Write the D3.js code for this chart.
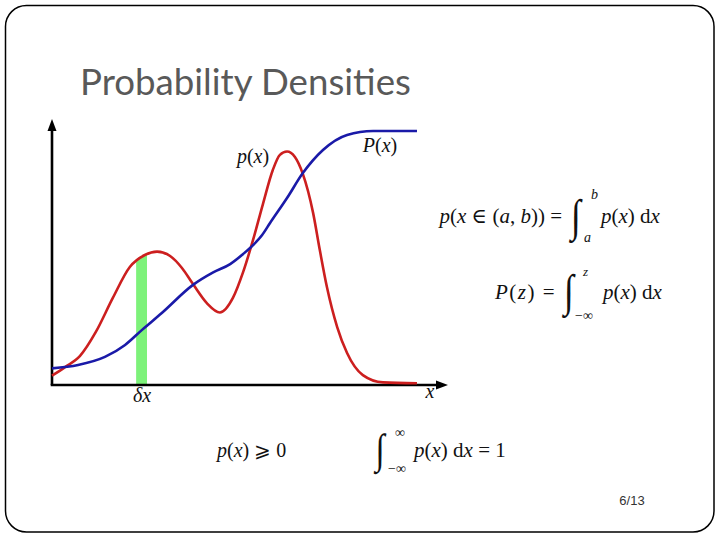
<!DOCTYPE html>
<html>
<head>
<meta charset="utf-8">
<script src="https://cdn.jsdelivr.net/npm/d3@7"></script>
<style>
  html, body { margin: 0; padding: 0; background: #fff; }
  svg { display: block; }
</style>
</head>
<body>
<svg id="chart" width="720" height="540"></svg>
<script>
// ---------- data (abstract units: x 0..100, y 0..100) ----------
const densityX = [0, 3.3, 7.1, 11.1, 15.4, 19.7, 23.5, 26.6, 29.9, 32.9, 35.7, 39.2, 42.5, 45.8, 48.4, 50.9, 53.4, 55.9, 57.7, 59.5, 61.5, 63.5, 66.1, 67.8, 69.6, 72.2, 74.7, 78.7, 83.8, 92.4];
const densityY = [3.6, 6.9, 11.2, 20.4, 33.5, 45.4, 50.0, 51.3, 49.6, 45.0, 38.8, 31.5, 27.9, 33.5, 43.5, 55.8, 69.6, 82.7, 88.5, 89.8, 87.7, 81.2, 66.2, 51.9, 37.7, 22.3, 12.3, 3.8, 1.0, 0.7];
const cumulativeX = [0, 6.6, 13.4, 18.5, 22.8, 27.8, 35.7, 40.8, 45.1, 48.4, 50.9, 53.2, 55.2, 59.5, 63.5, 68.6, 74.7, 81.3, 92.4];
const cumulativeY = [6.4, 7.7, 10.8, 15.4, 21.2, 27.7, 38.5, 43.3, 46.5, 50.4, 53.8, 57.7, 62.3, 71.9, 81.5, 90.4, 96.2, 97.7, 97.7];
const deltaBand = [21.3, 24.05];
const titleText = "Probability Densities";
const pageLabel = "6/13";

const svg = d3.select("#chart");

// ---------- slide frame ----------
svg.append("rect")
  .attr("x", 5.5).attr("y", 5.5).attr("width", 708.5).attr("height", 526.5)
  .attr("rx", 21).attr("ry", 21)
  .attr("fill", "none").attr("stroke", "#000").attr("stroke-width", 1.5);

// ---------- title ----------
const title = svg.append("text")
  .attr("x", 80).attr("y", 95)
  .attr("font-family", "Lato, 'Open Sans', sans-serif")
  .attr("font-size", 36)
  .attr("fill", "#595959")
  .text(titleText);
const tw = title.node().getComputedTextLength();
title.attr("font-size", 36 * 331 / tw);

// ---------- scales ----------
const x = d3.scaleLinear().domain([0, 100]).range([52, 447]);
const y = d3.scaleLinear().domain([0, 100]).range([385, 125]);

const density = densityX.map((d, i) => [d, densityY[i]]);
const cumulative = cumulativeX.map((d, i) => [d, cumulativeY[i]]);

// ---------- green band (area under density) ----------
svg.append("defs").append("clipPath").attr("id", "band")
  .append("rect")
  .attr("x", x(deltaBand[0])).attr("y", 0)
  .attr("width", x(deltaBand[1]) - x(deltaBand[0])).attr("height", 540);

const curve = d3.curveMonotoneX;
svg.append("path")
  .datum(density)
  .attr("clip-path", "url(#band)")
  .attr("fill", "#7df27a")
  .attr("d", d3.area().x(d => x(d[0])).y0(y(0)).y1(d => y(d[1])).curve(curve));

// ---------- axes ----------
const axisG = svg.append("g");
axisG.append("line")
  .attr("x1", x(0)).attr("y1", y(0)).attr("x2", x(0)).attr("y2", 128)
  .attr("stroke", "#000").attr("stroke-width", 2.6);
axisG.append("line")
  .attr("x1", x(0) - 1.3).attr("y1", y(0)).attr("x2", 440).attr("y2", y(0))
  .attr("stroke", "#000").attr("stroke-width", 2.6);
axisG.append("path")
  .attr("d", `M${x(0)},119 L${x(0) - 4.5},131 L${x(0) + 4.5},131 Z`)
  .attr("fill", "#000");
axisG.append("path")
  .attr("d", `M448,${y(0)} L436,${y(0) - 4.5} L436,${y(0) + 4.5} Z`)
  .attr("fill", "#000");

// ---------- curves ----------
const line = d3.line().x(d => x(d[0])).y(d => y(d[1])).curve(curve);
svg.append("path").datum(density)
  .attr("fill", "none").attr("stroke", "#cc1f1f").attr("stroke-width", 2.6)
  .attr("d", line);
svg.append("path").datum(cumulative)
  .attr("fill", "none").attr("stroke", "#1a1aa8").attr("stroke-width", 2.6)
  .attr("d", line);

// ---------- math labels ----------
const mathFont = "'Liberation Serif', 'DejaVu Serif', serif";
function mtext(xp, yp, parts, size, anchor, spacing) {
  const t = svg.append("text")
    .attr("x", xp).attr("y", yp)
    .attr("font-family", mathFont)
    .attr("font-size", size || 19)
    .attr("fill", "#111")
    .attr("letter-spacing", spacing || 0)
    .attr("text-anchor", anchor || "start");
  parts.forEach(p => {
    t.append("tspan")
      .attr("font-style", p[1] ? "italic" : "normal")
      .text(p[0]);
  });
  return t;
}
function integral(xp, yTop, yBot) {
  const t = svg.append("text")
    .attr("font-family", "'Liberation Serif', serif")
    .attr("font-size", 40)
    .attr("fill", "#111")
    .text("∫");
  const bb = t.node().getBBox();
  const s = (yBot - yTop) / bb.height;
  t.attr("transform", `translate(${xp - bb.x * s * 0.8},${yTop - bb.y * s}) scale(${0.8 * s},${s})`);
  return t;
}

mtext(253, 163, [["p", 1], ["(", 0], ["x", 1], [")", 0]], 20, "middle");
mtext(380, 152, [["P", 1], ["(", 0], ["x", 1], [")", 0]], 20, "middle");
mtext(142, 402, [["δ", 1], ["x", 1]], 20, "middle");
mtext(430, 398, [["x", 1]], 20, "middle");

// p(x in (a,b)) = int_a^b p(x) dx
mtext(562, 223, [["p", 1], ["(", 0], ["x", 1], [" ∈ (", 0], ["a", 1], [", ", 0], ["b", 1], [")) =", 0]], 21, "end");
integral(568, 190, 243);
mtext(591, 199, [["b", 1]], 14);
mtext(584, 242, [["a", 1]], 14);
mtext(601, 223, [["p", 1], ["(", 0], ["x", 1], [") d", 0], ["x", 1]], 21);

// P(z) = int_{-inf}^{z} p(x) dx
mtext(556, 299, [["P", 1], ["(", 0], ["z", 1], [")  =", 0]], 21, "end", 1.5);
integral(561, 265, 318);
mtext(583, 276, [["z", 1]], 13);
mtext(575, 320, [["−∞", 0]], 14);
mtext(603, 299, [["p", 1], ["(", 0], ["x", 1], [") d", 0], ["x", 1]], 21);

// p(x) >= 0
mtext(217, 457, [["p", 1], ["(", 0], ["x", 1], [") ", 0], ["⩾", 0], [" 0", 0]], 20);

// int_{-inf}^{inf} p(x) dx = 1
integral(373, 425, 474);
mtext(395, 437, [["∞", 0]], 14);
mtext(388, 473, [["−∞", 0]], 14);
mtext(414, 457, [["p", 1], ["(", 0], ["x", 1], [") d", 0], ["x", 1], [" = 1", 0]], 21);

// ---------- page number ----------
svg.append("text")
  .attr("x", 632).attr("y", 505)
  .attr("text-anchor", "middle")
  .attr("font-family", "'Liberation Sans', Arial, sans-serif")
  .attr("font-size", 13)
  .attr("fill", "#333")
  .text(pageLabel);
</script>
</body>
</html>
